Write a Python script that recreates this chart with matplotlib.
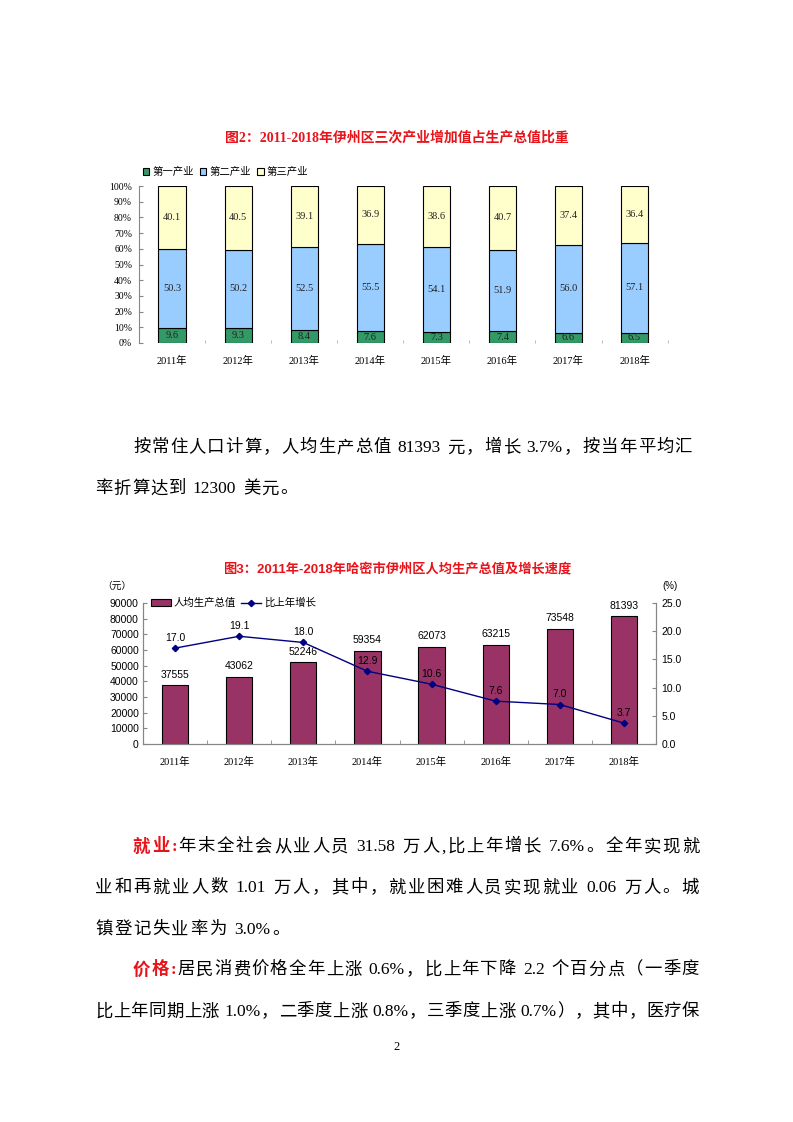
import matplotlib
matplotlib.use('Agg')
import matplotlib.pyplot as plt
import numpy as np

# ---------------- data ----------------
years = ['2011年', '2012年', '2013年', '2014年', '2015年', '2016年', '2017年', '2018年']
primary = [9.6, 9.3, 8.4, 7.6, 7.3, 7.4, 6.6, 6.5]
secondary = [50.3, 50.2, 52.5, 55.5, 54.1, 51.9, 56.0, 57.1]
tertiary = [40.1, 40.5, 39.1, 36.9, 38.6, 40.7, 37.4, 36.4]
sector_names = ['第一产业', '第二产业', '第三产业']
pct_ticks = [0, 10, 20, 30, 40, 50, 60, 70, 80, 90, 100]

gdp_pc = [37555, 43062, 52246, 59354, 62073, 63215, 73548, 81393]
growth = [17.0, 19.1, 18.0, 12.9, 10.6, 7.6, 7.0, 3.7]
gdp_ticks = [0, 10000, 20000, 30000, 40000, 50000, 60000, 70000, 80000, 90000]
growth_ticks = [0, 5, 10, 15, 20, 25]
series_names = ['人均生产总值', '比上年增长']

title1 = '图2：2011-2018年伊州区三次产业增加值占生产总值比重'
title2 = '图3：2011年-2018年哈密市伊州区人均生产总值及增长速度'

W, H = 793, 1122
SERIF = ['Liberation Serif', 'Noto Sans CJK SC']
SANS = ['Liberation Sans', 'Noto Sans CJK SC']
plt.rcParams['font.family'] = SERIF

fig = plt.figure(figsize=(W / 100, H / 100), dpi=100)
fig.patch.set_facecolor('white')


def fx(px):
    return px / W


def fy(py):
    return 1 - py / H


GRAY = '#868686'
RED = '#E8141B'

# ---------------- chart 1 ----------------
fig.text(fx(397), fy(138), title1, color=RED, fontsize=10, weight='bold',
         ha='center', va='center', family=SERIF)

ax1 = fig.add_axes([fx(139), fy(343), (667.6 - 139) / W, (343 - 186) / H])
x = np.arange(len(years))
bw = 0.41
p = np.array(primary)
s = np.array(secondary)
t = np.array(tertiary)
b1 = ax1.bar(x, p, bw, color='#339966', edgecolor='black', lw=0.8, label=sector_names[0])
b2 = ax1.bar(x, s, bw, bottom=p, color='#99CCFF', edgecolor='black', lw=0.8, label=sector_names[1])
b3 = ax1.bar(x, t, bw, bottom=p + s, color='#FFFFCC', edgecolor='black', lw=0.8, label=sector_names[2])
for i in range(len(x)):
    ax1.text(x[i], p[i] / 2, f'{p[i]:.1f}', ha='center', va='center', fontsize=7.5, color='#222222')
    ax1.text(x[i], p[i] + s[i] / 2, f'{s[i]:.1f}', ha='center', va='center', fontsize=7.5, color='#222222')
    ax1.text(x[i], p[i] + s[i] + t[i] / 2, f'{t[i]:.1f}', ha='center', va='center', fontsize=7.5, color='#222222')
ax1.set_ylim(0, 100)
ax1.set_xlim(-0.5, len(years) - 0.5)
ax1.set_yticks(pct_ticks)
ax1.set_yticklabels([f'{v}%' for v in pct_ticks])
ax1.tick_params(axis='y', direction='in', length=3, color=GRAY, labelsize=7, pad=5)
ax1.set_xticks(x)
ax1.set_xticklabels(years)
ax1.tick_params(axis='x', which='major', length=0, labelsize=7.5, pad=9)
ax1.set_xticks(np.arange(-0.5, len(years), 1), minor=True)
ax1.tick_params(axis='x', which='minor', direction='in', length=2, color='#B0B0B0')
for k in ['top', 'right', 'bottom']:
    ax1.spines[k].set_visible(False)
ax1.spines['left'].set_color(GRAY)
ax1.spines['left'].set_linewidth(0.8)

fig.legend(handles=[b1, b2, b3], loc='center left', bbox_to_anchor=(fx(143), fy(172)),
           ncol=3, fontsize=7.5, frameon=False, handlelength=0.6, handleheight=0.6,
           handletextpad=0.3, columnspacing=0.6, borderpad=0, borderaxespad=0)

# ---------------- chart 2 ----------------
fig.text(fx(397), fy(570), title2, color=RED, fontsize=9.5, weight='bold',
         ha='center', va='center', family=SANS)

ax2 = fig.add_axes([fx(143), fy(744), (656 - 143) / W, (744 - 603) / H])
bars = ax2.bar(x, gdp_pc, 0.41, color='#993366', edgecolor='black', lw=0.8, label=series_names[0])
ax2.set_ylim(0, 90000)
ax2.set_xlim(-0.5, len(years) - 0.5)
ax2.set_yticks(gdp_ticks)
ax2.set_yticklabels([str(v) for v in gdp_ticks], family=SANS)
ax2.tick_params(axis='y', direction='in', length=3, color=GRAY, labelsize=7.5, pad=3)
ax2.set_xticks(x)
ax2.set_xticklabels(years)
ax2.tick_params(axis='x', which='major', length=0, labelsize=7.5, pad=9)
ax2.set_xticks(np.arange(-0.5, len(years), 1), minor=True)
ax2.tick_params(axis='x', which='minor', direction='in', length=3, color=GRAY)
for i, v in enumerate(gdp_pc):
    ax2.annotate(str(v), (x[i], v), xytext=(0, 4), textcoords='offset points',
                 ha='center', va='bottom', fontsize=7.5, family=SANS)

ax2r = ax2.twinx()
line, = ax2r.plot(x, growth, color='#000080', marker='D', ms=3.2, lw=1, label=series_names[1])
ax2r.set_ylim(0, 25)
ax2r.set_yticks(growth_ticks)
ax2r.set_yticklabels([f'{v:.1f}' for v in growth_ticks], family=SANS)
ax2r.tick_params(axis='y', direction='in', length=3, color=GRAY, labelsize=7.5, pad=4)
for i, g in enumerate(growth):
    ax2r.annotate(f'{g:.1f}', (x[i], g), xytext=(0, 4), textcoords='offset points',
                  ha='center', va='bottom', fontsize=7.5, family=SANS)
for a in (ax2, ax2r):
    a.spines['top'].set_visible(False)
    for k in ['left', 'right', 'bottom']:
        a.spines[k].set_color(GRAY)
        a.spines[k].set_linewidth(0.8)

fig.legend(handles=[bars, line], loc='center left', bbox_to_anchor=(fx(151), fy(603)),
           ncol=2, frameon=False, handlelength=1.9, handleheight=0.6,
           handletextpad=0.3, columnspacing=0.5, borderpad=0, borderaxespad=0,
           prop={'family': SANS, 'size': 7.5})

fig.text(fx(117), fy(586), '（元）', fontsize=7, ha='center', va='center', family=SANS)
fig.text(fx(670), fy(586), '(%)', fontsize=7, ha='center', va='center', family=SANS)

# ---------------- body text ----------------
renderer = fig.canvas.get_renderer()
FS = 12.5
EM = FS * 100 / 72


def measure(u, weight):
    if u == ' ':
        return EM * 0.25
    tt = fig.text(0, 0, u, fontsize=FS, weight=weight, family=SERIF)
    w = tt.get_window_extent(renderer).width
    tt.remove()
    return w


def draw_line(yc, x0, segs, x1=None, gap=1.0):
    units = []
    for text, color, weight in segs:
        buf = ''
        for ch in text:
            if ord(ch) < 128 and ch != ' ':
                buf += ch
            else:
                if buf:
                    units.append((buf, color, weight))
                    buf = ''
                units.append((ch, color, weight))
        if buf:
            units.append((buf, color, weight))
    widths = [measure(u, w) for u, c, w in units]
    if x1 is not None:
        gap = (x1 - x0 - sum(widths)) / (len(units) - 1)
    xx = x0
    base = yc + 0.37 * EM
    for (u, c, w), wd in zip(units, widths):
        if u != ' ':
            fig.text(fx(xx), fy(base), u, fontsize=FS, color=c, weight=w,
                     family=SERIF, ha='left', va='baseline')
        xx += wd + gap
    return gap


K = 'black'
g = draw_line(446, 133, [('按常住人口计算，人均生产总值 81393 元，增长 3.7%，按当年平均汇', K, 'normal')], x1=692)
draw_line(487, 95, [('率折算达到 12300 美元。', K, 'normal')], gap=g)

g = draw_line(845, 133, [('就业:', RED, 'bold'),
                         ('年末全社会从业人员 31.58 万人,比上年增长 7.6%。全年实现就', K, 'normal')], x1=699)
draw_line(886, 95, [('业和再就业人数 1.01 万人，其中，就业困难人员实现就业 0.06 万人。城', K, 'normal')], x1=699)
draw_line(928, 95, [('镇登记失业率为 3.0%。', K, 'normal')], gap=g)

draw_line(968, 133, [('价格:', RED, 'bold'),
                     ('居民消费价格全年上涨 0.6%，比上年下降 2.2 个百分点（一季度', K, 'normal')], x1=699)
draw_line(1010, 95, [('比上年同期上涨 1.0%，二季度上涨 0.8%，三季度上涨 0.7%），其中，医疗保', K, 'normal')], x1=699)

fig.text(fx(397), fy(1047), '2', fontsize=9, ha='center', va='center', family=SERIF)

fig.savefig('out.png', dpi=100, facecolor='white')
